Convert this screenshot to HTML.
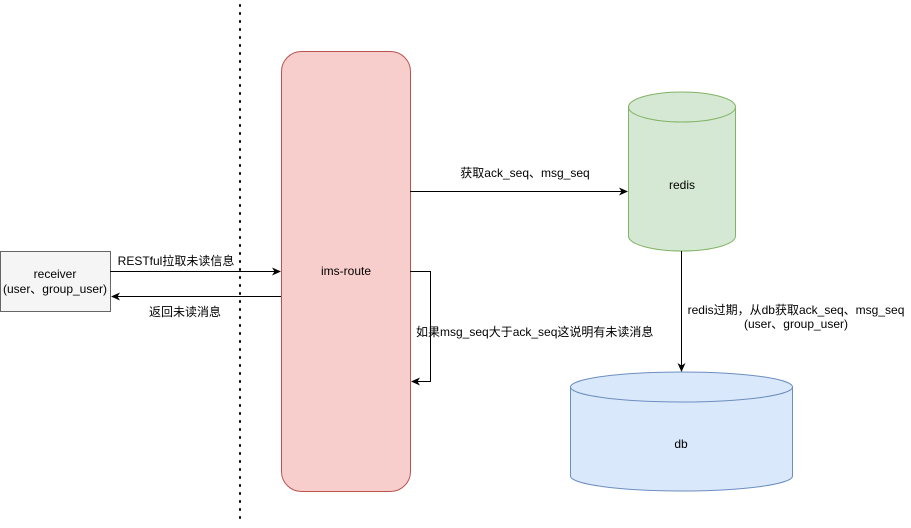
<!DOCTYPE html>
<html><head><meta charset="utf-8"><style>
body{margin:0;background:#fff;}
text{font-family:"Liberation Sans","Noto Sans CJK SC",sans-serif;font-size:12px;fill:#000;}
</style></head><body>
<svg width="911" height="523" viewBox="0 0 911 523" xmlns="http://www.w3.org/2000/svg">
<defs><marker id="a" markerWidth="10" markerHeight="10" refX="8" refY="5" orient="auto" markerUnits="userSpaceOnUse"><path d="M0,1 L9,5 L0,9 L2.5,5 Z" fill="#000"/></marker></defs>
<line x1="240" y1="5" x2="240" y2="523" stroke="#000" stroke-width="2" stroke-dasharray="1,7" stroke-linecap="round"/>
<rect x="0.5" y="251.5" width="110" height="60" fill="#f5f5f5" stroke="#666"/>
<text x="55" y="278" text-anchor="middle">receiver</text>
<text x="55" y="293" text-anchor="middle">(user、group_user)</text>
<rect x="281.5" y="51.5" width="129" height="440" rx="20" fill="#f8cecc" stroke="#b85450"/>
<text x="346" y="275" text-anchor="middle">ims-route</text>
<path d="M628.5,107 L628.5,236 A53.5,15 0 0 0 735.5,236 L735.5,107 Z" fill="#d5e8d4" stroke="#82b366"/>
<ellipse cx="682" cy="107" rx="53.5" ry="15" fill="#d5e8d4" stroke="#82b366"/>
<text x="682" y="189" text-anchor="middle">redis</text>
<path d="M570.5,387 L570.5,476 A111,15 0 0 0 792.5,476 L792.5,387 Z" fill="#dae8fc" stroke="#6c8ebf"/>
<ellipse cx="681.5" cy="387" rx="111" ry="15" fill="#dae8fc" stroke="#6c8ebf"/>
<text x="681" y="448" text-anchor="middle">db</text>
<line x1="110" y1="271.5" x2="280" y2="271.5" stroke="#000" marker-end="url(#a)"/>
<text x="176" y="265" text-anchor="middle">RESTful拉取未读信息</text>
<line x1="281" y1="296.5" x2="112" y2="296.5" stroke="#000" marker-end="url(#a)"/>
<text x="185" y="316" text-anchor="middle">返回未读消息</text>
<path d="M410,271.5 L430.5,271.5 L430.5,381.5 L412,381.5" fill="none" stroke="#000" marker-end="url(#a)"/>
<text x="416" y="336">如果msg_seq大于ack_seq这说明有未读消息</text>
<line x1="410" y1="191.5" x2="627" y2="191.5" stroke="#000" marker-end="url(#a)"/>
<text x="525" y="177" text-anchor="middle">获取ack_seq、msg_seq</text>
<line x1="681.5" y1="251" x2="681.5" y2="371" stroke="#000" marker-end="url(#a)"/>
<text x="796" y="314" text-anchor="middle">redis过期，从db获取ack_seq、msg_seq</text>
<text x="796" y="328" text-anchor="middle">(user、group_user)</text>
</svg>
</body></html>
